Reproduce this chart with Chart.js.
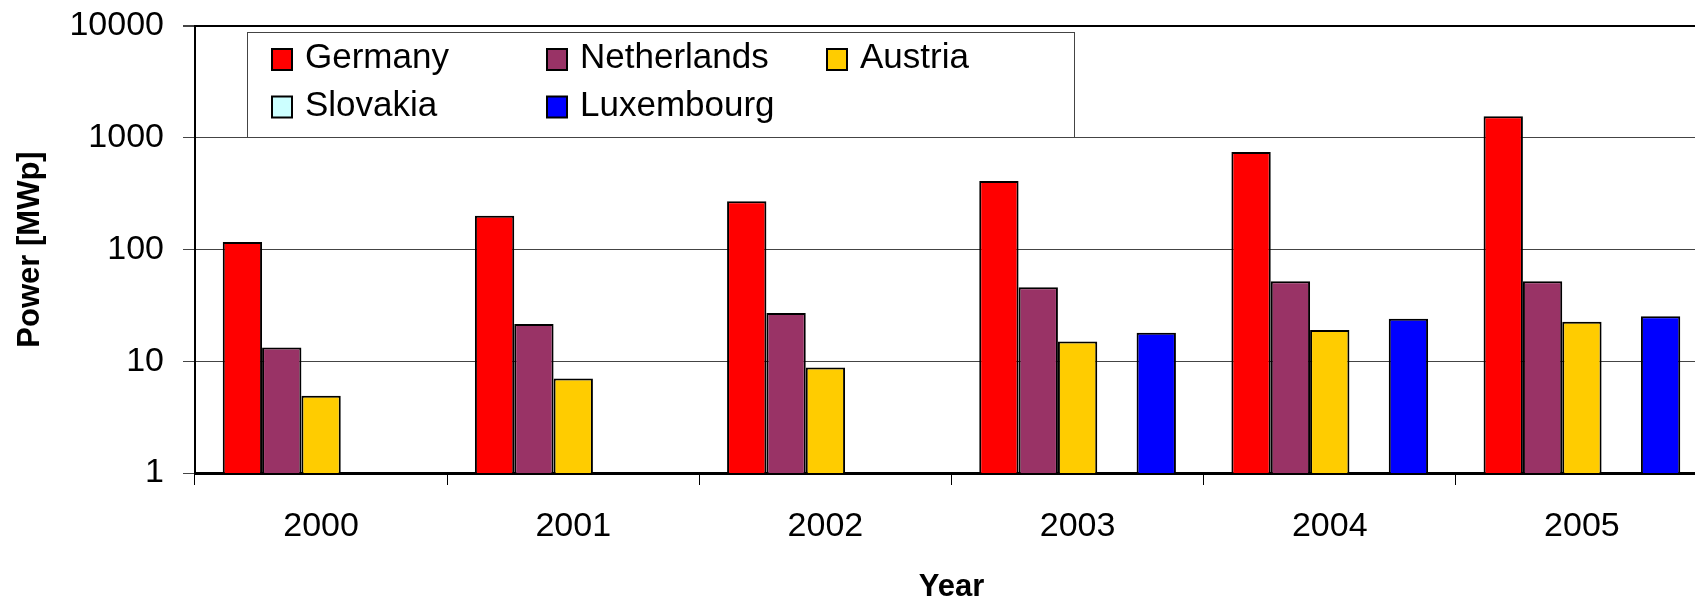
<!DOCTYPE html>
<html>
<head>
<meta charset="utf-8">
<script src="https://cdn.jsdelivr.net/npm/chart.js@4/dist/chart.umd.min.js"></script>
<style>
  html, body { margin: 0; padding: 0; background: #fff; overflow: hidden; }
  #wrap { position: relative; width: 1712px; height: 601px; }
</style>
</head>
<body>
<div id="wrap"><canvas id="pv-chart"></canvas></div>
<script>
const years = ["2000", "2001", "2002", "2003", "2004", "2005"];
const germany = [117, 200, 270, 410, 745, 1560];
const netherlands = [13.3, 21.5, 27, 46, 52, 52];
const austria = [4.9, 7, 8.8, 15, 19, 22.6];
const slovakia = [null, null, null, null, null, null];
const luxembourg = [null, null, null, 18, 24, 25.3];
const yTicks = [1, 10, 100, 1000, 10000];

const FONT = '"Liberation Sans", Arial, sans-serif';

// legend drawn as a boxed 3-column grid, like the original
const legendBox = {
  id: "legendBox",
  afterDraw(chart) {
    const { ctx, chartArea } = chart;
    const left = chartArea.left + 52;
    const top = chartArea.top + 6;
    const colX = [25, 300, 580];
    const rowY = [17, 64.5];
    ctx.save();
    ctx.fillStyle = "#fff";
    ctx.fillRect(left, top, 827, 105);
    ctx.strokeStyle = "#444";
    ctx.lineWidth = 1;
    ctx.strokeRect(left + 0.5, top + 0.5, 827, 105);
    ctx.font = "35px " + FONT;
    ctx.textBaseline = "alphabetic";
    chart.data.datasets.forEach((ds, i) => {
      const x = left + colX[i % 3];
      const y = top + rowY[Math.floor(i / 3)];
      ctx.fillStyle = ds.backgroundColor;
      ctx.fillRect(x, y, 20, 21);
      ctx.strokeStyle = "#000";
      ctx.lineWidth = 2;
      ctx.strokeRect(x, y, 20, 21);
      ctx.fillStyle = "#000";
      ctx.fillText(ds.label, x + 33, y + 19.3);
    });
    ctx.restore();
  },
};

const chart = new Chart(document.getElementById("pv-chart"), {
  type: "bar",
  data: {
    labels: years,
    datasets: [
      { label: "Germany", data: germany, backgroundColor: "#FF0000" },
      { label: "Netherlands", data: netherlands, backgroundColor: "#993366" },
      { label: "Austria", data: austria, backgroundColor: "#FFCC00" },
      { label: "Slovakia", data: slovakia, backgroundColor: "#CCFFFF" },
      { label: "Luxembourg", data: luxembourg, backgroundColor: "#0000FF" },
    ],
  },
  options: {
    responsive: true,
    maintainAspectRatio: false,
    animation: false,
    layout: { padding: { top: 26, right: 4, bottom: 0, left: 0 } },
    plugins: {
      legend: { display: false },
      tooltip: { enabled: false },
    },
    datasets: {
      bar: {
        categoryPercentage: 0.78,
        barPercentage: 1,
        borderWidth: 2,
        borderColor: "#000",
        borderSkipped: "start",
      },
    },
    scales: {
      x: {
        grid: {
          offset: true,
          drawOnChartArea: false,
          tickLength: 12,
          tickColor: "#000",
          tickWidth: 1,
        },
        border: { color: "#000", width: 3 },
        ticks: {
          color: "#000",
          padding: 21,
          maxRotation: 0,
          font: { family: FONT, size: 34 },
        },
        title: {
          display: true,
          text: "Year",
          color: "#000",
          padding: 0,
          font: { family: FONT, size: 31, weight: "bold", lineHeight: 0.9 },
        },
        afterFit: (axis) => {
          axis.height = 128;
          axis.paddingLeft = 0;
          axis.paddingRight = 0;
        },
      },
      y: {
        type: "logarithmic",
        min: 1,
        max: 10000,
        afterBuildTicks: (axis) => {
          axis.ticks = yTicks.map((v) => ({ value: v }));
        },
        grid: {
          color: (c) => (c.tick && c.tick.value === 10000 ? "#000" : "#444"),
          lineWidth: (c) => (c.tick && c.tick.value === 10000 ? 2 : 1),
          tickLength: 12,
          tickColor: "#444",
        },
        border: { color: "#000", width: 2 },
        ticks: {
          color: "#000",
          padding: 19,
          font: { family: FONT, size: 34 },
          callback: (v) => String(v),
        },
        title: {
          display: true,
          text: "Power [MWp]",
          color: "#000",
          padding: { top: 12, bottom: 0 },
          font: { family: FONT, size: 31, weight: "bold" },
        },
        afterFit: (axis) => {
          axis.width = 195;
          axis.paddingTop = 0;
          axis.paddingBottom = 0;
        },
      },
    },
  },
  plugins: [legendBox],
});
</script>
</body>
</html>
